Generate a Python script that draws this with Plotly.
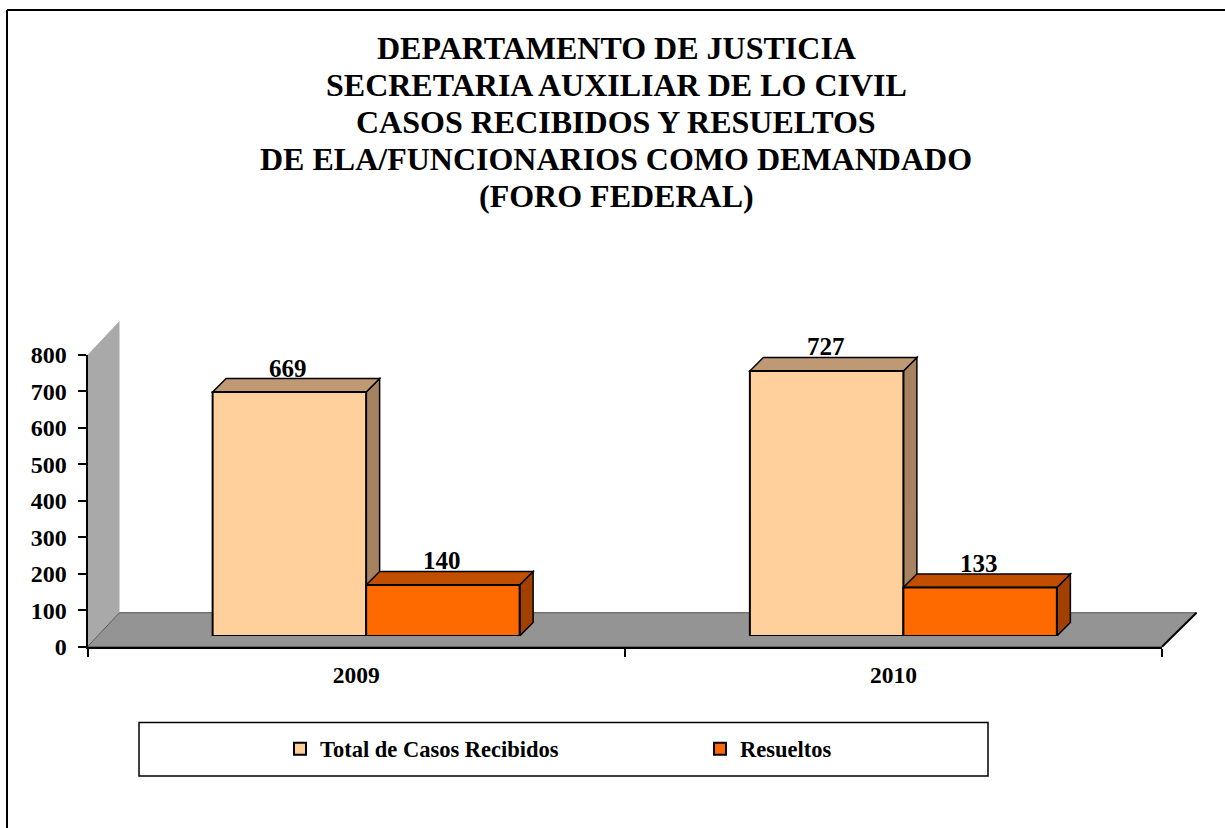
import plotly.graph_objects as go

categories = ["2009", "2010"]
series_names = ["Total de Casos Recibidos", "Resueltos"]
total_recibidos = [669, 727]
resueltos = [140, 133]
y_ticks = [0, 100, 200, 300, 400, 500, 600, 700, 800]
title_lines = [
    "DEPARTAMENTO DE JUSTICIA",
    "SECRETARIA AUXILIAR DE LO CIVIL",
    "CASOS RECIBIDOS Y RESUELTOS",
    "DE ELA/FUNCIONARIOS COMO DEMANDADO",
    "(FORO FEDERAL)",
]

W, H = 1225, 828
FONT = "Liberation Serif"
# plot frame in pixels
L, R, T, B = 87.5, 1162.0, 355.0, 646.7
SHIFT_X, SHIFT_Y = 10.0, 10.7   # bars stand this far inside the floor
DEPTH = 13.5                    # bar depth
BACK_X, BACK_X_R, BACK_Y = 32.0, 34.5, 34.0     # floor / wall depth

X_RANGE = [-0.5, 1.5]
Y_RANGE = [0, 800]
px_x = (X_RANGE[1] - X_RANGE[0]) / (R - L)
px_y = (Y_RANGE[1] - Y_RANGE[0]) / (B - T)
BAR_W = 153.5 * px_x


def poly(points, fill, line=None, lw=0, xref="x", yref="y"):
    path = "M" + "L".join(f"{a:.5f},{b:.5f}" for a, b in points) + "Z"
    return dict(type="path", path=path, xref=xref, yref=yref, layer="below",
                fillcolor=fill, line=dict(color=line or "rgba(0,0,0,0)", width=lw))


def seg(x0, y0, x1, y1, color="black", width=2):
    return dict(type="line", xref="paper", yref="paper", x0=x0 / W, x1=x1 / W,
                y0=1 - y0 / H, y1=1 - y1 / H, line=dict(color=color, width=width), layer="above")


def pp(x, y):
    return (x / W, 1 - y / H)


dx, dy = DEPTH * px_x, DEPTH * px_y

shapes = [
    poly([pp(L, B), pp(L + BACK_X, B - BACK_Y), pp(L + BACK_X, T - BACK_Y), pp(L, T)],
         "#A9A9A9", xref="paper", yref="paper"),
    poly([pp(L, B), pp(L + BACK_X, B - BACK_Y), pp(R + BACK_X_R, B - BACK_Y), pp(R, B)],
         "#949494", "#555555", 1, "paper", "paper"),
    seg(R, B, R + BACK_X_R, B - BACK_Y, "black", 2),
]

palette = [("#FFCF9C", "#BF9974", "#A68360"), ("#FF6A00", "#C24E00", "#A14000")]
for s, values in enumerate([total_recibidos, resueltos]):
    _, top, side = palette[s]
    for c, v in enumerate(values):
        left = c - BAR_W + s * BAR_W
        right = left + BAR_W
        shapes.append(poly([(right, 0), (right + dx, dy), (right + dx, v + dy), (right, v)],
                           side, "black", 1.5, "x2", "y2"))
        shapes.append(poly([(left, v), (left + dx, v + dy), (right + dx, v + dy), (right, v)],
                           top, "black", 1.5, "x2", "y2"))

# page frame
shapes += [seg(7, 10, 7, H), seg(7, 10, W, 10)]
# legend frame
shapes.append(dict(type="rect", xref="paper", yref="paper", x0=139 / W, x1=988 / W,
                   y0=1 - 776 / H, y1=1 - 722.5 / H, line=dict(color="black", width=1.5),
                   fillcolor="white", layer="below"))

fig = go.Figure()
# keeps the main (front-edge) axes alive; invisible
fig.add_trace(go.Scatter(x=list(range(len(categories))), y=total_recibidos, mode="none",
                         showlegend=False, hoverinfo="skip", xaxis="x", yaxis="y"))
for s, (name, values) in enumerate(zip(series_names, [total_recibidos, resueltos])):
    fig.add_trace(go.Bar(
        x=list(range(len(categories))), y=values, name=name, xaxis="x2", yaxis="y2",
        marker=dict(color=palette[s][0], line=dict(color="black", width=2)),
        width=BAR_W, offset=-BAR_W + s * BAR_W, hoverinfo="skip",
    ))

annotations = []
for s, values in enumerate([total_recibidos, resueltos]):
    for c, v in enumerate(values):
        annotations.append(dict(
            x=c - BAR_W + (s + 0.5) * BAR_W, y=v, xref="x2", yref="y2", text=f"<b>{v}</b>",
            showarrow=False, yshift=24, xshift=-1,
            font=dict(family=FONT, size=25, color="black"),
        ))
for i, line in enumerate(title_lines):
    annotations.append(dict(
        x=616 / W, y=1 - (48 + 37 * i) / H, xref="paper", yref="paper",
        xanchor="center", yanchor="middle", text=f"<b>{line}</b>", showarrow=False,
        font=dict(family=FONT, size=32, color="black"),
    ))

fig.update_layout(
    width=W, height=H, autosize=False,
    margin=dict(l=0, r=0, t=0, b=0, pad=0, autoexpand=False),
    paper_bgcolor="white", plot_bgcolor="rgba(0,0,0,0)",
    barmode="overlay", showlegend=True,
    xaxis=dict(
        domain=[L / W, R / W], range=X_RANGE, anchor="y", showgrid=False, zeroline=False,
        showline=True, linecolor="black", linewidth=2, tickmode="array",
        tickvals=list(range(len(categories))), ticktext=[f"<b>{c}</b>" for c in categories],
        ticks="", ticklabelstandoff=6,
        minor=dict(tickmode="array", tickvals=[-0.5, 0.5, 1.5], ticks="outside", ticklen=8,
                   tickwidth=1.5, tickcolor="black", showgrid=False),
        tickfont=dict(family=FONT, size=23.5, color="black"), fixedrange=True,
    ),
    yaxis=dict(
        domain=[1 - B / H, 1 - T / H], range=Y_RANGE, anchor="x", showgrid=False, zeroline=False,
        showline=True, linecolor="black", linewidth=2, tickmode="array", tickvals=y_ticks,
        ticktext=[f"<b>{t}</b>" for t in y_ticks], ticks="outside", ticklen=8, tickwidth=1.5,
        ticklabelstandoff=6,
        tickcolor="black", tickfont=dict(family=FONT, size=24, color="black"), fixedrange=True,
    ),
    xaxis2=dict(
        domain=[(L + SHIFT_X) / W, (R + SHIFT_X) / W], range=X_RANGE, anchor="y2",
        visible=False, fixedrange=True,
    ),
    yaxis2=dict(
        domain=[1 - (B - SHIFT_Y) / H, 1 - (T - SHIFT_Y) / H], range=Y_RANGE, anchor="x2",
        visible=False, fixedrange=True,
    ),
    legend=dict(
        orientation="h", x=280 / W, y=1 - 749 / H, xanchor="left", yanchor="middle",
        bgcolor="rgba(0,0,0,0)", borderwidth=0, entrywidth=375, entrywidthmode="pixels",
        font=dict(family=FONT, size=22.5, color="black", weight="bold"),
        itemclick=False, itemdoubleclick=False,
    ),
    shapes=shapes, annotations=annotations,
)

fig.write_html("out.html", config=dict(displayModeBar=False),
               post_script="document.body.style.margin='0';document.documentElement.style.overflow='hidden';")
